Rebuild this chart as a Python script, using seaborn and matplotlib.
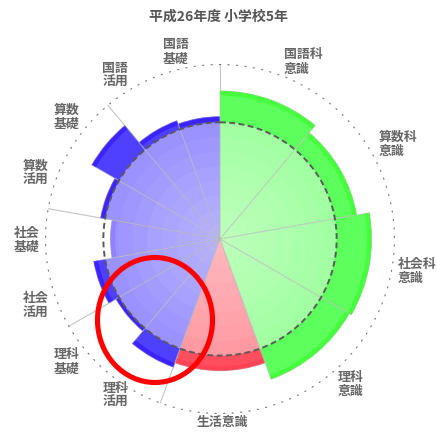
import numpy as np
import matplotlib
matplotlib.use("Agg")
import matplotlib.pyplot as plt
from matplotlib.patches import Ellipse
import seaborn as sns

# ---------------- data ----------------
title = "平成26年度 小学校5年"
categories = ["国語科\n意識", "算数科\n意識", "社会科\n意識", "理科\n意識", "生活意識",
              "理科\n活用", "理科\n基礎", "社会\n活用", "社会\n基礎",
              "算数\n活用", "算数\n基礎", "国語\n活用", "国語\n基礎"]
scores = [127, 119, 130, 128, 113, 117, 103, 110, 94, 104, 127, 108, 105]
groups = ["意識", "意識", "意識", "意識", "生活",
          "教科", "教科", "教科", "教科", "教科", "教科", "教科", "教科"]
spans_deg = [40, 40, 40, 40, 40, 20, 20, 20, 20, 20, 20, 20, 20]
national_avg = 100
r_max = 150

# ---------------- style ----------------
sns.set_theme(style="white")
plt.rcParams["font.family"] = ["Noto Sans CJK JP", "DejaVu Sans"]

main_colors = {"意識": "#5cff5c", "生活": "#ff4f5f", "教科": "#4f40ff"}
band_colors = {"意識": "#45ff3c", "生活": "#ff4255", "教科": "#3b22ff"}

label_pos = [  # (theta deg, r) for category labels
    (25.0, 168), (61.9, 173), (99.2, 171), (138.1, 167), (179.4, 157),
    (213.9, 161), (231.4, 168), (250.3, 168), (269.7, 166),
    (289.7, 168), (308.6, 168), (327.4, 167), (346.8, 165)]

W, H = 437, 432
fig = plt.figure(figsize=(W / 100, H / 100), dpi=100)
cx, cy, rpx = 220, 239, 175
ax = fig.add_axes([(cx - rpx) / W, (H - cy - rpx) / H, 2 * rpx / W, 2 * rpx / H],
                  projection="polar")
ax.set_theta_zero_location("N")
ax.set_theta_direction(-1)
ax.set_ylim(0, r_max)
ax.set_axis_off()

spans = np.deg2rad(spans_deg)
starts = np.concatenate([[0], np.cumsum(spans)[:-1]])
centers = starts + spans / 2
cols = [main_colors[g] for g in groups]
bcols = [band_colors[g] for g in groups]

# grid lines (left side only, as in reference)
for a in [0, 200, 240, 280, 320]:
    ax.plot([np.deg2rad(a)] * 2, [0, r_max], color="#c4c4c4", lw=0.8, zorder=0)

# outer dotted circle
tt = np.linspace(0, 2 * np.pi, 600)
ax.plot(tt, np.full_like(tt, r_max), color="#777777", lw=1.8,
        linestyle=(0, (0.01, 3.4)), dash_capstyle="round", zorder=1)

# bars
ax.bar(centers, scores, width=spans, color=cols, edgecolor="none", zorder=2)
band = 4.0
ax.bar(centers, [band] * len(scores), bottom=np.array(scores) - band, width=spans,
       color=bcols, edgecolor="none", zorder=2.1)

# lightening inside the national-average circle
ax.bar(0, national_avg, width=2 * np.pi, color="white", alpha=0.43,
       edgecolor="none", zorder=3)
for k in range(1, 8):
    ax.bar(0, national_avg * k / 8, width=2 * np.pi, color="white", alpha=0.05,
           edgecolor="none", zorder=3.1)

# wedge borders
ax.bar(centers, scores, width=spans, fill=False,
       edgecolor=(0.72, 0.72, 0.72, 0.4), linewidth=0.8, zorder=3.5)

# dashed national average circle
ax.plot(tt, np.full_like(tt, national_avg), color="#5a5a5a", lw=1.4,
        linestyle=(0, (3.0, 1.8)), zorder=4)

# category labels
for lab, (th, r) in zip(categories, label_pos):
    ax.text(np.deg2rad(th), r, lab, ha="center", va="center", multialignment="left",
            fontsize=9.3, fontweight="bold", color="#666666", linespacing=1.05,
            clip_on=False, zorder=5)

# title
fig.text(218 / W, 1 - 17 / H, title, ha="center", va="center", fontsize=10,
         fontweight="bold", color="#555555")

# red highlight circle
fig.add_artist(Ellipse((155 / W, 1 - 320 / H), 115 / W, 125 / H,
                       transform=fig.transFigure, fill=False,
                       edgecolor="#ff0000", linewidth=3.7, zorder=10))

fig.savefig("out.png", dpi=100)
